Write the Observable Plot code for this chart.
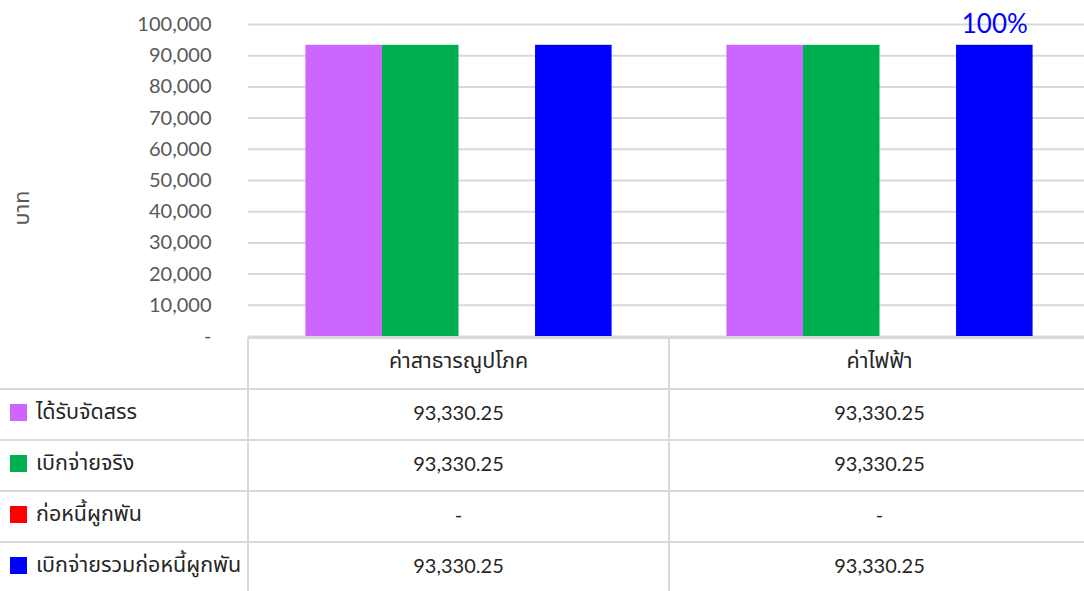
<!DOCTYPE html>
<html>
<head>
<meta charset="utf-8">
<script src="https://cdn.jsdelivr.net/npm/d3@7"></script>
<script src="https://cdn.jsdelivr.net/npm/@observablehq/plot@0.6"></script>
<style>
  html, body { margin: 0; padding: 0; background: #fff; width: 1084px; height: 591px; overflow: hidden; }
  body { font-family: Lato, "Noto Sans Thai", "Noto Sans", sans-serif; }
  #chart svg { display: block; overflow: visible; }
  #wrap { position: relative; width: 1084px; height: 591px; overflow: hidden; }
  table.dt { border-collapse: collapse; table-layout: fixed; width: 1090px; font-size: 20px; color: #262626; }
  table.dt td { border: 2px solid #d9d9d9; padding: 0 0 5px 0; height: 44px; text-align: center; white-space: nowrap; vertical-align: middle; }
  table.dt tr:first-child td:first-child { border-top: none; border-left: none; }
  table.dt td:first-child { border-left: none; text-align: left; }
  table.dt .th { font-size: 21.5px; }
  .key { display: inline-block; width: 17px; height: 17px; margin: 0 9px 0 10px; vertical-align: -2px; }
</style>
</head>
<body>
<div id="wrap">
  <div id="chart"></div>
  <div id="table"></div>
</div>
<script>
const categories = ["ค่าสาธารณูปโภค", "ค่าไฟฟ้า"];
const seriesNames = ["ได้รับจัดสรร", "เบิกจ่ายจริง", "ก่อหนี้ผูกพัน", "เบิกจ่ายรวมก่อหนี้ผูกพัน"];
const seriesColors = ["#CC66FF", "#00B050", "#FF0000", "#0000FF"];
const allocated = [93330.25, 93330.25];
const spent = [93330.25, 93330.25];
const committed = [0, 0];
const spentPlusCommitted = [93330.25, 93330.25];
const percentLabels = ["", "100%"];
const yTicks = [0, 10000, 20000, 30000, 40000, 50000, 60000, 70000, 80000, 90000, 100000];
const yLabel = "บาท";

const seriesValues = [allocated, spent, committed, spentPlusCommitted];
const data = [];
categories.forEach((c, ci) => {
  seriesNames.forEach((s, si) => {
    data.push({category: c, series: s, value: seriesValues[si][ci], label: si === 3 ? percentLabels[ci] : ""});
  });
});

const fmt = d3.format(",");
const chart = Plot.plot({
  width: 1084,
  height: 337,
  marginLeft: 248,
  marginRight: -6,
  marginTop: 24,
  marginBottom: 1,
  style: {fontFamily: "Lato, 'Noto Sans Thai', sans-serif", background: "transparent"},
  fx: {domain: categories, padding: 0, axis: null, round: false},
  x: {domain: seriesNames, paddingInner: 0, paddingOuter: 0.75, axis: null, round: false},
  y: {domain: [0, 100000]},
  color: {domain: seriesNames, range: seriesColors},
  marks: [
    Plot.gridY(yTicks, {stroke: "#d9d9d9", strokeWidth: 2, strokeOpacity: 1}),
    Plot.axisY(yTicks, {
      tickSize: 0, tickPadding: 37, fontSize: 20, fill: "#595959",
      tickFormat: d => d === 0 ? "-" : fmt(d),
      label: null
    }),
    Plot.barY(data, {fx: "category", x: "series", y: "value", fill: "series"}),
    Plot.text(data.filter(d => d.label), {fx: "category", x: "series", y: "value", text: "label", fill: "#0000FF", fontSize: 26, dy: -21}),
    Plot.text([yLabel], {fx: () => categories[0], frameAnchor: "left", rotate: -90, dx: -226, dy: 45, fontSize: 21.5, fill: "#595959", text: d => d})
  ]
});
document.getElementById("chart").appendChild(chart);

// data table
const table = document.createElement("table");
table.className = "dt";
const colgroup = document.createElement("colgroup");
[248, 421, 421].forEach(w => { const col = document.createElement("col"); col.style.width = w + "px"; colgroup.appendChild(col); });
table.appendChild(colgroup);
const header = table.insertRow();
header.insertCell().textContent = "";
categories.forEach(c => { const td = header.insertCell(); td.textContent = c; td.classList.add("th"); });
const valFmt = v => v === 0 ? "-" : d3.format(",.2f")(v);
seriesNames.forEach((s, si) => {
  const row = table.insertRow();
  const lc = row.insertCell();
  lc.classList.add("th");
  const key = document.createElement("span");
  key.className = "key";
  key.style.background = seriesColors[si];
  lc.appendChild(key);
  lc.appendChild(document.createTextNode(s));
  categories.forEach((c, ci) => { row.insertCell().textContent = valFmt(seriesValues[si][ci]); });
});
document.getElementById("table").appendChild(table);
</script>
</body>
</html>
